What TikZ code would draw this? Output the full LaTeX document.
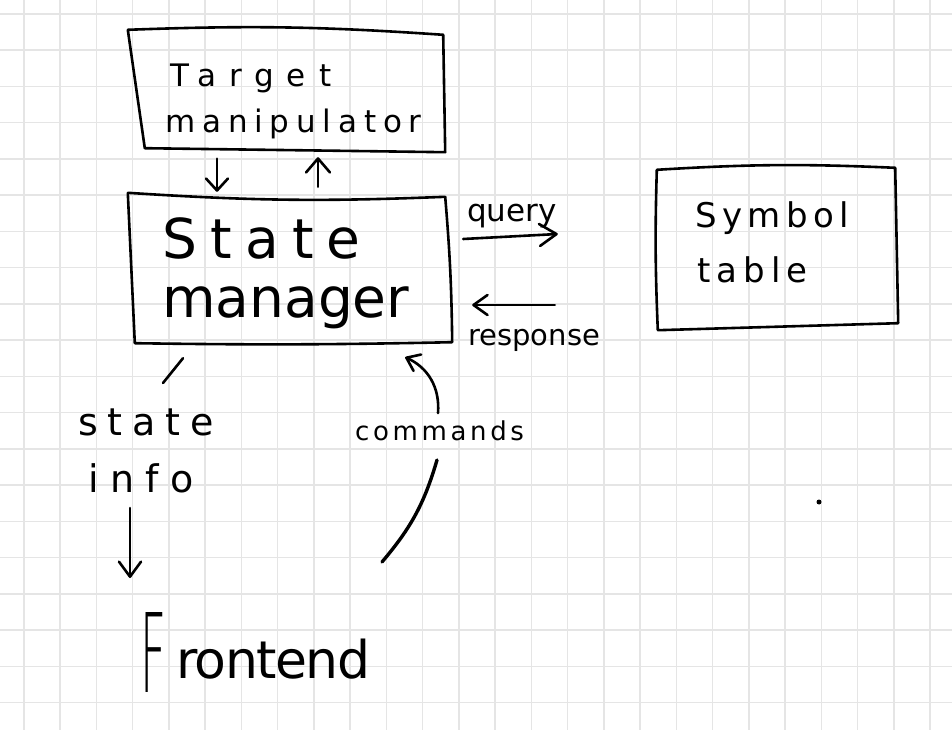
\documentclass[tikz,border=0pt]{standalone}
\usepackage{fontspec}
\usepackage{graphicx}
\usetikzlibrary{arrows.meta,calc}
\newfontfamily\hand{DejaVu Sans}
\newfontfamily\handthin{DejaVuSans-ExtraLight.ttf}

\tikzset{
  gridline/.style={draw=black!10, line width=1.5pt},
  pen/.style={line width=2.6pt, line cap=round, line join=round},
  arr/.style 2 args={-{Straight Barb[round,length=#1pt,width=#2pt]}},
  boxarea/.style={rectangle, inner sep=0pt, draw=none},
  lbl/.style 2 args={anchor=base west, inner sep=0pt,
    font=\hand\fontsize{#1}{#1}\selectfont\addfontfeature{LetterSpace=#2}},
}

\begin{document}
\begin{tikzpicture}[x=1pt,y=-1pt]
\useasboundingbox (0,0) rectangle (952,730);
\fill[white] (0,0) rectangle (952,730);

% squared paper
\foreach \k in {0,...,25} \draw[gridline] ({24+36.24*\k},0) -- ({24+36.24*\k},730);
\foreach \k in {0,...,19} \draw[gridline] (0,{14+36.24*\k}) -- (952,{14+36.24*\k});

% box areas
\node[boxarea, minimum width=317pt, minimum height=121pt] (tm) at (286,91) {};
\node[boxarea, minimum width=322pt, minimum height=148pt] (sm) at (290,268) {};
\node[boxarea, minimum width=240pt, minimum height=160pt] (st) at (777,249) {};

% hand-drawn outlines
\draw[pen] ([shift={(0.5,-0.5)}]tm.north west) to[bend left=3] ([shift={(-1.5,4.5)}]tm.north east)
  -- ([shift={(0.5,0.5)}]tm.south east) -- ([shift={(17.5,-3.5)}]tm.south west)
  -- ([shift={(0.5,-0.5)}]tm.north west);
\draw[pen] ([shift={(-1,-1)}]sm.north west) to[bend right=3] ([shift={(-6,3)}]sm.north east)
  to[bend left=2] ([shift={(1,0)}]sm.south east) to[bend left=1] ([shift={(6,1)}]sm.south west)
  -- ([shift={(-1,-1)}]sm.north west);
\draw[pen] ([shift={(0,1)}]st.north west) to[bend left=3] ([shift={(-2,-1)}]st.north east)
  -- ([shift={(1,-6)}]st.south east) -- ([shift={(1,1)}]st.south west)
  to[bend left=2] ([shift={(0,1)}]st.north west);

% texts
\node[lbl={31}{42}] (tmA) at (170,87) {Target};
\node[lbl={31}{22}] (tmB) at (165,133) {manipulator};
\node[lbl={55}{24}] (smA) at (162,258) {State};
\node[lbl={55}{0}]  (smB) at (162,317) {manager};
\node[lbl={34}{16}] (stA) at (695,227) {Symbol};
\node[lbl={34}{18}] (stB) at (697,282) {table};
\node[lbl={31}{0}]  (q)   at (467,221) {query};
\node[lbl={29}{0}]  (r)   at (468,345) {response};
\node[lbl={38}{26}] (siA) at (78,435) {state};
\node[lbl={38}{30}] (siB) at (88,492) {info};
\node[lbl={26}{14}] (cmd) at (355,440) {commands};
\node[lbl={52}{-3}] (fe)  at (140,678)
  {\raisebox{-14pt}{\resizebox{26pt}{80pt}{\handthin\fontsize{100}{100}\selectfont F}}\hspace{10pt}rontend};

% connectors
\draw[pen, arr={12}{22}] ([shift={(-69,7)}]tm.south) -- ([shift={(-73,-2)}]sm.north);
\draw[pen, arr={14}{24}] ([shift={(28,-7)}]sm.north) -- ([shift={(32,5.5)}]tm.south);
\draw[pen, arr={17}{22}] ([shift={(12,-29)}]sm.east) -- ([shift={(-99,-15)}]st.west);
\draw[pen, arr={14}{20}] ([shift={(-102,56)}]st.west) -- ([shift={(21,37)}]sm.east);
\draw[pen] ([shift={(-107,16)}]sm.south) -- ([shift={(85,-52)}]siA.base west);
\draw[pen, arr={15}{22}] ([shift={(42,16)}]siB.base west) -- ([shift={(-10,-100)}]fe.base west);
\draw[pen, arr={12}{18}] ([shift={(83,-27)}]cmd.base west) to[bend right=35] ([shift={(-46,15)}]sm.south east);
\draw[pen, line width=3.4pt] ([shift={(82,20)}]cmd.base west) to[bend left=12] ([shift={(242,-116)}]fe.base west);

% stray pen dot
\fill (819,502) circle (2.5);
\end{tikzpicture}
\end{document}
